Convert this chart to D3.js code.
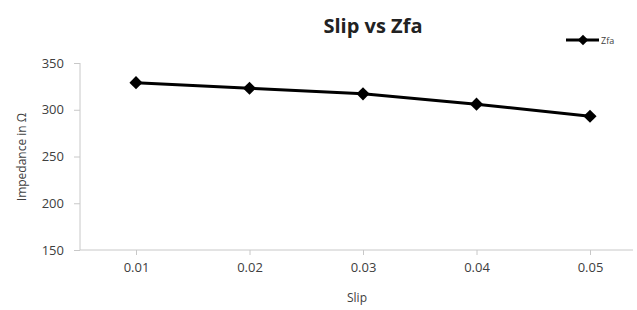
<!DOCTYPE html>
<html><head><meta charset="utf-8">
<script src="https://cdn.jsdelivr.net/npm/d3@7"></script>
<style>body{margin:0;background:#fff}svg{display:block}</style>
</head><body>
<script>
const categories = ["0.01","0.02","0.03","0.04","0.05"];
const zfa = [329, 323, 317, 306, 293];
const yTicks = [150, 200, 250, 300, 350];
const seriesName = "Zfa";

const W = 637, H = 310;
const svg = d3.select("body").append("svg").attr("width", W).attr("height", H);
const font = "'Open Sans', 'Liberation Sans', sans-serif";

const x = d3.scalePoint().domain(categories).range([136, 590]);
const y = d3.scaleLinear().domain([150, 350]).range([250, 63]);

// axes
const gx = svg.append("g").attr("transform", "translate(0,250)");
gx.append("line").attr("x1", 80).attr("x2", 633).attr("y1", 0).attr("y2", 0)
  .attr("stroke", "#c8c8c8").attr("stroke-width", 1);
gx.call(g => {
  const ax = d3.axisBottom(x).tickSize(5).tickPadding(8);
  const a = g.append("g").call(ax);
  a.select(".domain").remove();
  a.selectAll(".tick line").attr("stroke", "#c8c8c8");
  a.selectAll(".tick text").attr("fill", "#404040").attr("font-size", 13).attr("font-family", font);
});

const gy = svg.append("g").attr("transform", "translate(80,0)");
gy.append("line").attr("x1", 0).attr("x2", 0).attr("y1", 63).attr("y2", 250)
  .attr("stroke", "#c8c8c8");
const ay = gy.append("g").call(d3.axisLeft(y).tickValues(yTicks).tickSize(6).tickPadding(10));
ay.select(".domain").remove();
ay.selectAll(".tick line").attr("stroke", "#c8c8c8");
ay.selectAll(".tick text").attr("fill", "#404040").attr("font-size", 13).attr("font-family", font);

// line
const line = d3.line().x((d, i) => x(categories[i])).y(d => y(d));
svg.append("path").datum(zfa).attr("d", line).attr("fill", "none")
  .attr("stroke", "#000").attr("stroke-width", 3);
const diamond = d3.symbol().type(d3.symbolDiamond2).size(110);
svg.selectAll(".pt").data(zfa).enter().append("path")
  .attr("d", diamond)
  .attr("transform", (d, i) => `translate(${x(categories[i])},${y(d)})`)
  .attr("fill", "#000");

// title
svg.append("text").attr("x", 373).attr("y", 33).attr("text-anchor", "middle")
  .attr("font-family", font).attr("font-weight", "bold").attr("font-size", 20)
  .attr("fill", "#222").text("Slip vs Zfa");

// axis titles
svg.append("text").attr("x", 357).attr("y", 302).attr("text-anchor", "middle")
  .attr("font-family", font).attr("font-size", 12).attr("fill", "#404040").text("Slip");
svg.append("text").attr("transform", "translate(26,157) rotate(-90)").attr("text-anchor", "middle")
  .attr("font-family", font).attr("font-size", 12).attr("fill", "#404040").text("Impedance in Ω");

// legend
const lg = svg.append("g").attr("transform", "translate(566,40)");
lg.append("line").attr("x1", 0).attr("x2", 33).attr("y1", 0).attr("y2", 0)
  .attr("stroke", "#000").attr("stroke-width", 3);
lg.append("path").attr("d", d3.symbol().type(d3.symbolDiamond2).size(70)).attr("transform", "translate(17,0)").attr("fill", "#000");
lg.append("text").attr("x", 35).attr("y", 3.5).attr("font-family", font).attr("font-size", 9)
  .attr("fill", "#404040").text(seriesName);
</script>
</body></html>
